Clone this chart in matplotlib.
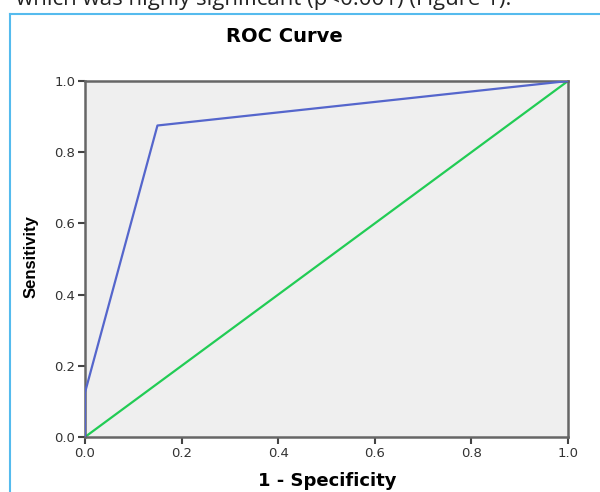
import matplotlib
matplotlib.use("Agg")
import matplotlib.pyplot as plt
from matplotlib.lines import Line2D

# ROC points (1 - specificity, sensitivity)
fpr = [0.0, 0.0, 0.15, 1.0]
tpr = [0.0, 0.125, 0.875, 1.0]
ref_line = [0.0, 1.0]
ticks = [0.0, 0.2, 0.4, 0.6, 0.8, 1.0]
tick_labels = ["0.0", "0.2", "0.4", "0.6", "0.8", "1.0"]

plt.rcParams['font.family'] = ['DejaVu Sans']

fig = plt.figure(figsize=(6, 4.92), dpi=100)
ax = fig.add_axes([85 / 600, 1 - 437 / 492, 483 / 600, 356 / 492])
ax.set_facecolor("#efefef")

ax.plot(ref_line, ref_line, color="#22cc55", lw=1.6, zorder=2)
ax.plot(fpr, tpr, color="#5566cc", lw=1.6, zorder=3)

ax.set_xlim(0, 1)
ax.set_ylim(0, 1)
ax.set_xticks(ticks)
ax.set_xticklabels(tick_labels)
ax.set_yticks(ticks)
ax.set_yticklabels(tick_labels)
ax.tick_params(direction="out", length=5, width=1.5, color="#444444",
               labelsize=9.5, labelcolor="#333333", pad=2)
for s in ax.spines.values():
    s.set_color("#666666")
    s.set_linewidth(1.8)

# titles
fig.text(284 / 600, 1 - 36 / 492, "ROC Curve", ha="center", va="center",
         fontsize=14, fontweight="bold")
fig.text(327 / 600, 1 - 481 / 492, "1 - Specificity", ha="center", va="center",
         fontsize=13, fontweight="bold")
fig.text(31 / 600, 1 - 257 / 492, "Sensitivity", ha="center", va="center",
         rotation=90, fontsize=12, fontweight="bold",
         family=["Liberation Sans Narrow", "Liberation Sans"])

# light blue frame of the embedded figure + cut-off text above it
fig.add_artist(Line2D([10 / 600, 10 / 600], [0, 1 - 14 / 492],
                      transform=fig.transFigure, color="#55bbee", lw=1.5))
fig.add_artist(Line2D([10 / 600, 1], [1 - 14 / 492, 1 - 14 / 492],
                      transform=fig.transFigure, color="#55bbee", lw=1.5))
fig.text(16 / 600, 1 - 5 / 492, "which was highly significant (p<0.001) (Figure 1).",
         ha="left", va="baseline", fontsize=16, color="#222222",
         family=["Open Sans", "DejaVu Sans"])

fig.savefig("out.png", dpi=100)
